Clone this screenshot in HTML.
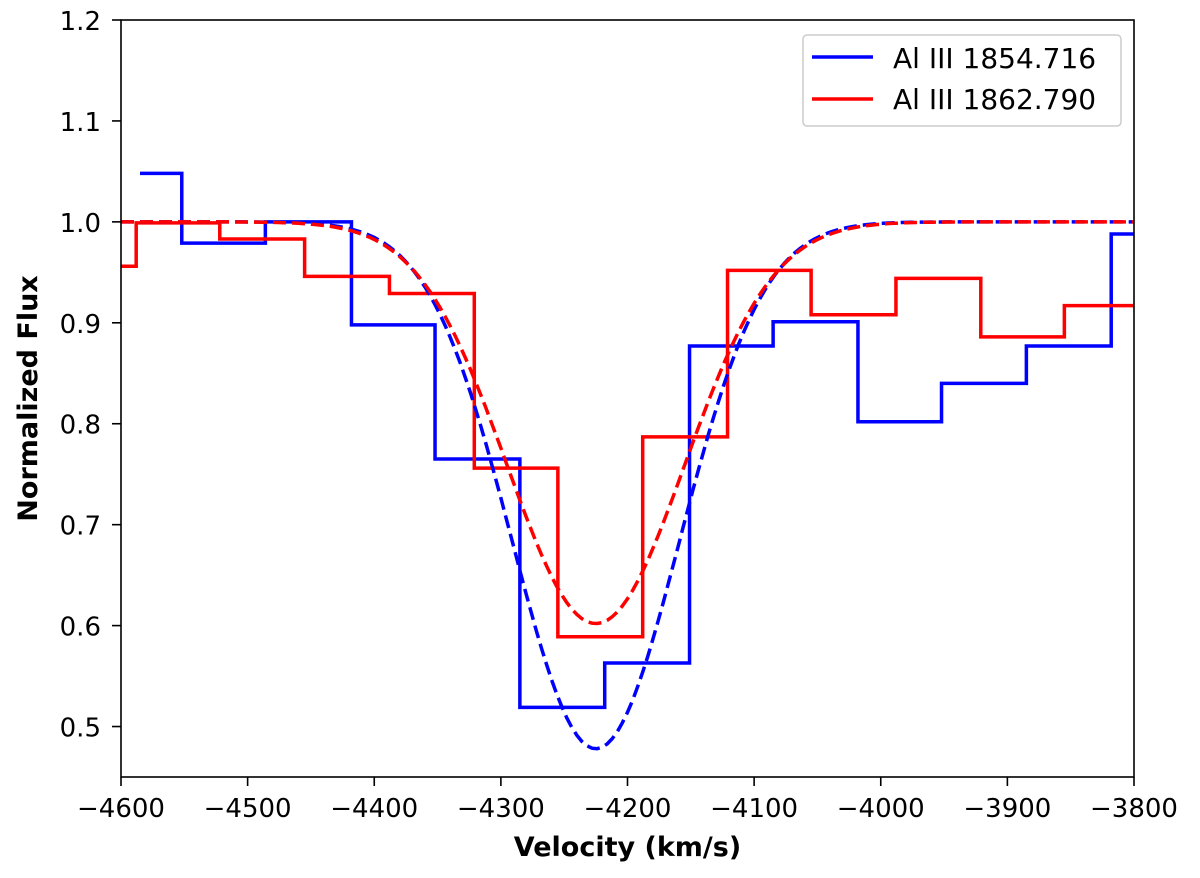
<!DOCTYPE html>
<html><head><meta charset="utf-8"><style>
body{margin:0;background:#fff}
svg text{font-family:"DejaVu Sans","Liberation Sans",sans-serif}
</style></head><body>
<svg id="chart" width="1200" height="873" xmlns="http://www.w3.org/2000/svg">
<g id="plot"></g>
</svg>
<script>
const xTicks=[-4600,-4500,-4400,-4300,-4200,-4100,-4000,-3900,-3800];
const yTicks=[0.5,0.6,0.7,0.8,0.9,1.0,1.1,1.2];
const blueEdges=[-4585,-4552,-4486,-4418,-4352,-4285,-4218,-4151,-4085,-4018,-3952,-3885,-3818,-3800];
const blueFlux=[1.048,0.979,1.0,0.898,0.765,0.519,0.563,0.877,0.901,0.802,0.840,0.877,0.988];
const redEdges=[-4600,-4588,-4522,-4455,-4388,-4321,-4255,-4188,-4121,-4055,-3988,-3921,-3855,-3800];
const redFlux=[0.956,0.999,0.983,0.946,0.929,0.756,0.589,0.787,0.952,0.908,0.944,0.886,0.917];
const blueModel=[-4225,0.522,66];
const redModel=[-4225,0.398,70];
const L=121,R=1134,T=20,B=777;
const xs=v=>L+(v+4600)/800*(R-L);
const ys=v=>T+(1.2-v)/0.75*(B-T);
const NS='http://www.w3.org/2000/svg';
const g=document.getElementById('plot');
function mk(t,a){const e=document.createElementNS(NS,t);for(const k in a)e.setAttribute(k,a[k]);g.appendChild(e);return e;}
function stepPath(edges,flux){let d='';for(let i=0;i<flux.length;i++){d+=(i?'L':'M')+xs(edges[i])+' '+ys(flux[i])+'L'+xs(edges[i+1])+' '+ys(flux[i]);}return d;}
function modelPath(p){let d='';for(let v=-4600;v<=-3800;v+=4){const f=1-p[1]*Math.exp(-Math.pow(v-p[0],2)/(2*p[2]*p[2]));d+=(v===-4600?'M':'L')+xs(v).toFixed(1)+' '+ys(f).toFixed(1);}return d;}
let e;
e=mk('path',{d:stepPath(blueEdges,blueFlux),fill:'none',stroke:'#0000ff','stroke-width':3.5});

e=mk('path',{d:stepPath(redEdges,redFlux),fill:'none',stroke:'#ff0000','stroke-width':3.5});

e=mk('path',{d:modelPath(blueModel),fill:'none',stroke:'#0000ff','stroke-width':3.5,'stroke-dasharray':'13 6'});

e=mk('path',{d:modelPath(redModel),fill:'none',stroke:'#ff0000','stroke-width':3.5,'stroke-dasharray':'13 6'});

e=mk('rect',{x:L,y:T,width:R-L,height:B-T,fill:'none',stroke:'#000','stroke-width':1.6});

xTicks.forEach(v=>{
 let t=mk('line',{x1:xs(v),x2:xs(v),y1:B,y2:B+9,stroke:'#000','stroke-width':1.6});
 
 t=mk('text',{x:xs(v),y:817,'text-anchor':'middle','font-size':26});t.textContent=String(v).replace('-','\u2212');
 
});
yTicks.forEach(v=>{
 let t=mk('line',{x1:L-9,x2:L,y1:ys(v),y2:ys(v),stroke:'#000','stroke-width':1.6});
 
 t=mk('text',{x:L-20,y:ys(v)+10,'text-anchor':'end','font-size':26});t.textContent=v.toFixed(1);
 
});
e=mk('text',{x:(L+R)/2,y:856,'text-anchor':'middle','font-size':27,'font-weight':'bold'});e.textContent='Velocity (km/s)';

e=mk('text',{x:37,y:(T+B)/2,'text-anchor':'middle','font-size':27,'font-weight':'bold',transform:'rotate(-90 37 '+((T+B)/2)+')'});e.textContent='Normalized Flux';

e=mk('rect',{x:803,y:35,width:318,height:91,rx:4,fill:'#fff',stroke:'#ccc','stroke-width':1.5});

[['#0000ff','Al III 1854.716',57,68],['#ff0000','Al III 1862.790',99,109]].forEach(l=>{
 let t=mk('line',{x1:812,x2:873,y1:l[2],y2:l[2],stroke:l[0],'stroke-width':3.5});
 
 t=mk('text',{x:893,y:l[3],'font-size':28});t.textContent=l[1];
 
});
</script>
</body></html>
